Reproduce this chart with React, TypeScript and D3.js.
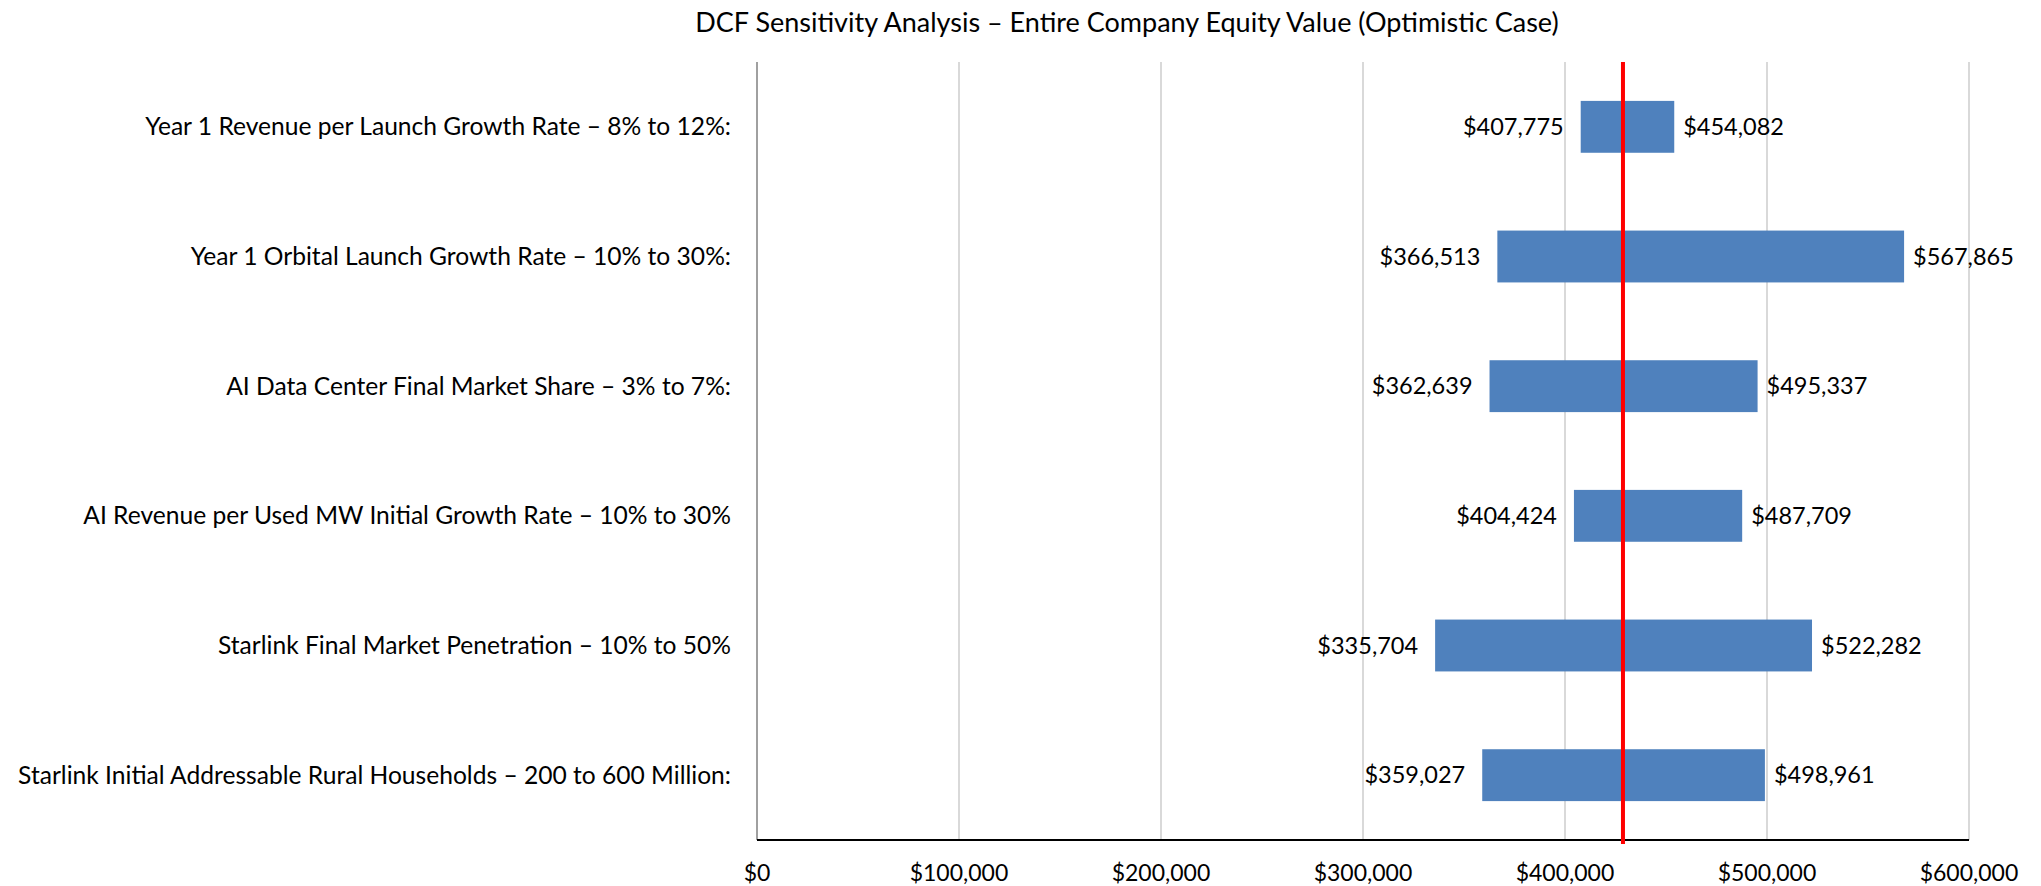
import * as d3 from 'd3'

const categories = [
  'Year 1 Revenue per Launch Growth Rate – 8% to 12%:',
  'Year 1 Orbital Launch Growth Rate – 10% to 30%:',
  'AI Data Center Final Market Share – 3% to 7%:',
  'AI Revenue per Used MW Initial Growth Rate – 10% to 30%',
  'Starlink Final Market Penetration – 10% to 50%',
  'Starlink Initial Addressable Rural Households – 200 to 600 Million:',
]
const lowValues = [407775, 366513, 362639, 404424, 335704, 359027]
const highValues = [454082, 567865, 495337, 487709, 522282, 498961]
const baseValue = 428700
const xTicks = [0, 100000, 200000, 300000, 400000, 500000, 600000]

const width = 2041
const height = 886
const left = 757
const right = 1969
const top = 62
const bottom = 840
const font = 'Lato, "Open Sans", sans-serif'
const barColor = '#4F81BD'

const x = d3.scaleLinear().domain([0, 600000]).range([left, right])
const y = d3.scaleBand<number>().domain(d3.range(categories.length)).range([top, bottom]).paddingInner(0.6).paddingOuter(0.3)
const fmt = d3.format('$,')

function App() {
  const bw = y.bandwidth()
  return (
    <svg width={width} height={height} style={{ position: 'absolute', left: 0, top: 0, background: '#fff' }}>
      <text x={1127} y={32} textAnchor="middle" fontFamily={font} fontSize={27} fill="#000">
        DCF Sensitivity Analysis – Entire Company Equity Value (Optimistic Case)
      </text>
      {xTicks.slice(1).map(t => (
        <line key={t} x1={x(t)} x2={x(t)} y1={top} y2={bottom} stroke="#D9D9D9" strokeWidth={2} />
      ))}
      {categories.map((c, i) => {
        const cy = y(i)! + bw / 2
        return (
          <g key={c}>
            <rect x={x(lowValues[i])} y={y(i)} width={x(baseValue) - x(lowValues[i])} height={bw} fill={barColor} />
            <rect x={x(baseValue)} y={y(i)} width={x(highValues[i]) - x(baseValue)} height={bw} fill={barColor} />
            <text x={731} y={cy} dy="0.35em" textAnchor="end" fontFamily={font} fontSize={24.6}>{c}</text>
            <text x={x(lowValues[i]) - 17} y={cy} dy="0.35em" textAnchor="end" fontFamily={font} fontSize={23.5}>{fmt(lowValues[i])}</text>
            <text x={x(highValues[i]) + 9} y={cy} dy="0.35em" textAnchor="start" fontFamily={font} fontSize={23.5}>{fmt(highValues[i])}</text>
          </g>
        )
      })}
      <line x1={left} x2={left} y1={top} y2={bottom} stroke="#808080" strokeWidth={1.5} />
      <line x1={left} x2={right} y1={bottom} y2={bottom} stroke="#000" strokeWidth={2} />
      {xTicks.map(t => (
        <text key={t} x={x(t)} y={873} dy="0.35em" textAnchor="middle" fontFamily={font} fontSize={23}>{fmt(t)}</text>
      ))}
      <line x1={x(baseValue)} x2={x(baseValue)} y1={top} y2={bottom + 4} stroke="#FF0000" strokeWidth={4} />
    </svg>
  )
}

export default App
